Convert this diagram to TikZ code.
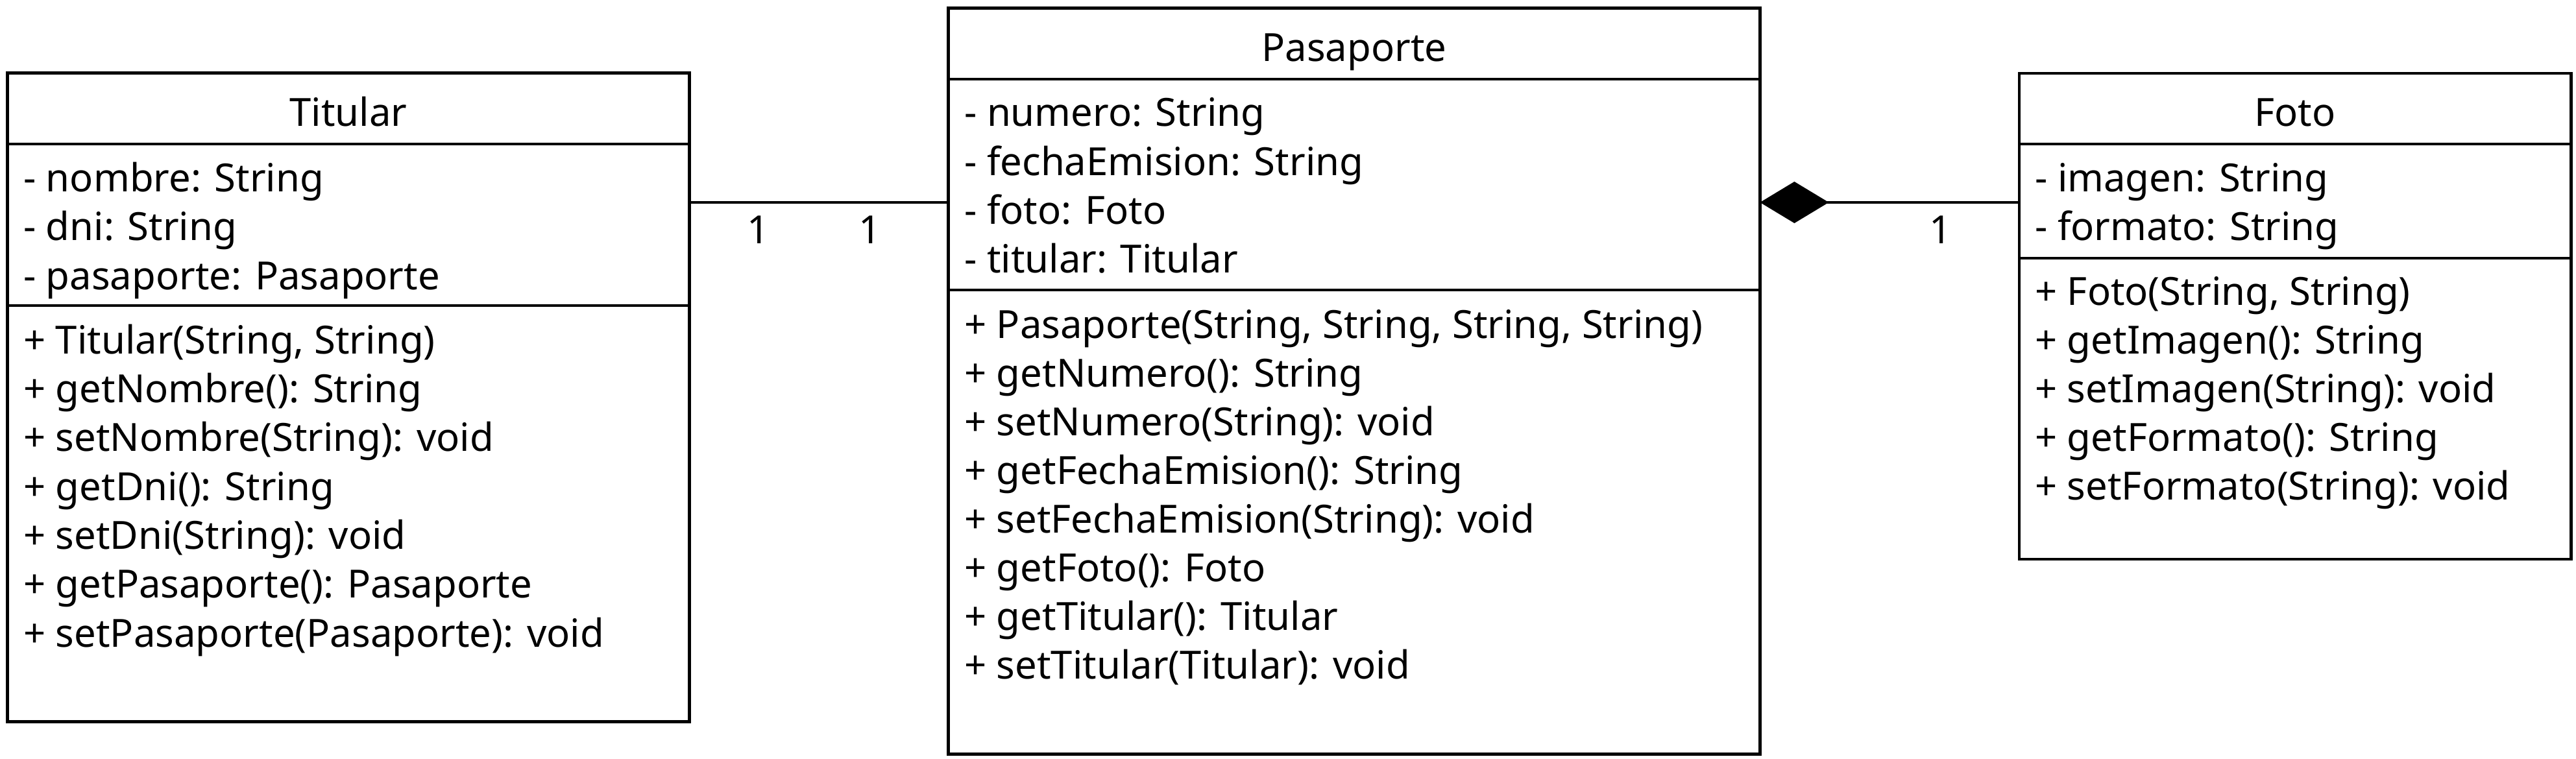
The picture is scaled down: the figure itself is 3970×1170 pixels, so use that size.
\documentclass[tikz,border=0pt]{standalone}
\usepackage{fontspec}
\setmainfont{Noto Sans}
\usetikzlibrary{arrows.meta}
\begin{document}
\begin{tikzpicture}[x=0.01cm, y=-0.01cm, line width=0.45mm,
		class/.style = {draw, rectangle, inner sep=0pt, outer sep=0pt},
		title/.style = {anchor=base, inner sep=0pt, font=\fontsize{17}{20}\selectfont},
		member/.style = {anchor=base west, inner sep=0pt, font=\fontsize{17}{20}\selectfont},
		mult/.style = {anchor=base, inner sep=0pt, font=\fontsize{17}{20}\selectfont}]

		\useasboundingbox (0,0) rectangle (3970,1170);

		\node[class, minimum width=105mm, minimum height=99.9mm] (titular) at (537,612.5) {};
		\node[class, minimum width=125mm, minimum height=114.9mm] (pasaporte) at (2087,587.5) {};
		\node[class, minimum width=85mm, minimum height=74.9mm] (foto) at (3537,487.5) {};

		\draw (titular.west |- 0,222) -- (titular.east |- 0,222);
		\draw (titular.west |- 0,471) -- (titular.east |- 0,471);
		\draw (pasaporte.west |- 0,122) -- (pasaporte.east |- 0,122);
		\draw (pasaporte.west |- 0,447) -- (pasaporte.east |- 0,447);
		\draw (foto.west |- 0,222) -- (foto.east |- 0,222);
		\draw (foto.west |- 0,398) -- (foto.east |- 0,398);

		\node[title] (titularName) at (537,195) {Titular};
		\node[member] (titularA1) at (34,295) {- nombre: String};
		\node[member] (titularA2) at (34,370) {- dni: String};
		\node[member] (titularA3) at (34,446) {- pasaporte: Pasaporte};
		\node[member] (titularM1) at (34,545) {+ Titular(String, String)};
		\node[member] (titularM2) at (34,620) {+ getNombre(): String};
		\node[member] (titularM3) at (34,695) {+ setNombre(String): void};
		\node[member] (titularM4) at (34,771) {+ getDni(): String};
		\node[member] (titularM5) at (34,846) {+ setDni(String): void};
		\node[member] (titularM6) at (34,921) {+ getPasaporte(): Pasaporte};
		\node[member] (titularM7) at (34,997) {+ setPasaporte(Pasaporte): void};

		\node[title] (pasaporteName) at (2087,95) {Pasaporte};
		\node[member] (pasaporteA1) at (1484,195) {- numero: String};
		\node[member] (pasaporteA2) at (1484,270) {- fechaEmision: String};
		\node[member] (pasaporteA3) at (1484,345) {- foto: Foto};
		\node[member] (pasaporteA4) at (1484,420) {- titular: Titular};
		\node[member] (pasaporteM1) at (1484,521) {+ Pasaporte(String, String, String, String)};
		\node[member] (pasaporteM2) at (1484,596) {+ getNumero(): String};
		\node[member] (pasaporteM3) at (1484,671) {+ setNumero(String): void};
		\node[member] (pasaporteM4) at (1484,746) {+ getFechaEmision(): String};
		\node[member] (pasaporteM5) at (1484,821) {+ setFechaEmision(String): void};
		\node[member] (pasaporteM6) at (1484,896) {+ getFoto(): Foto};
		\node[member] (pasaporteM7) at (1484,971) {+ getTitular(): Titular};
		\node[member] (pasaporteM8) at (1484,1046) {+ setTitular(Titular): void};

		\node[title] (fotoName) at (3537,195) {Foto};
		\node[member] (fotoA1) at (3134,295) {- imagen: String};
		\node[member] (fotoA2) at (3134,370) {- formato: String};
		\node[member] (fotoM1) at (3134,470) {+ Foto(String, String)};
		\node[member] (fotoM2) at (3134,545) {+ getImagen(): String};
		\node[member] (fotoM3) at (3134,620) {+ setImagen(String): void};
		\node[member] (fotoM4) at (3134,695) {+ getFormato(): String};
		\node[member] (fotoM5) at (3134,770) {+ setFormato(String): void};

		\draw (titular.east |- 0,312) -- (pasaporte.west |- 0,312);
		\draw[{Diamond[length=10.6mm, width=6.4mm]}-] (pasaporte.east |- 0,312) -- (foto.west |- 0,312);

		\node[mult] (mult1) at (1169,375) {1};
		\node[mult] (mult2) at (1341,375) {1};
		\node[mult] (mult3) at (2991,375) {1};
	\end{tikzpicture}
\end{document}
